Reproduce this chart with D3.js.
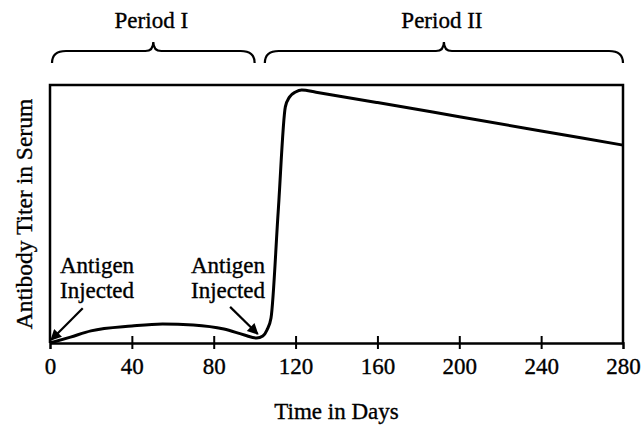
<!DOCTYPE html>
<html>
<head>
<meta charset="utf-8">
<script src="https://cdn.jsdelivr.net/npm/d3@7"></script>
<style>
  body { margin: 0; background: #fff; }
  text { font-family: "Liberation Serif", "Times New Roman", serif; fill: #000; stroke: #000; stroke-width: 0.35px; }
</style>
</head>
<body>
<div id="chart"></div>
<script>
// Values (days, relative titer 0-100)
const days   = [0, 10, 20, 40, 55, 70, 85, 95, 101, 104, 106, 108, 111.5, 115, 117, 120, 123, 130, 160, 200, 240, 280];
const titer  = [0, 2.3, 4.7, 6.6, 7.4, 7.0, 5.4, 3.1, 1.9, 2.7, 5.0, 9.7, 50.8, 91.5, 95.3, 97.3, 98.1, 97.2, 93.2, 87.7, 82.2, 76.7];
const tickValues = [0, 40, 80, 120, 160, 200, 240, 280];
const periods = [
  { label: "Period I",  start: 0,   end: 100 },
  { label: "Period II", start: 104, end: 280 }
];
const injections = [
  { tip: [0.5, 1.2],  tail: [16, 13.5], text: ["Antigen", "Injected"], lx: 23 },
  { tip: [101.5, 3.5], tail: [88, 14], text: ["Antigen", "Injected"], lx: 87 }
];

const width = 641, height = 427;
const margin = { top: 85, right: 18, bottom: 84, left: 50 };

const svg = d3.select("#chart").append("svg")
    .attr("width", width)
    .attr("height", height);

const x = d3.scaleLinear().domain([0, 280]).range([margin.left, width - margin.right]);
const y = d3.scaleLinear().domain([0, 100]).range([height - margin.bottom, margin.top]);

// frame
svg.append("path")
    .attr("d", `M${x(0)},${y(0)} V${y(100)} H${x(280)} V${y(0)}`)
    .attr("fill", "none")
    .attr("stroke", "#000")
    .attr("stroke-width", 2.5);

// x axis with crossing ticks
const xAxis = svg.append("g")
    .attr("transform", `translate(0,${y(0)})`)
    .call(d3.axisBottom(x).tickValues(tickValues).tickSize(6).tickPadding(9));
xAxis.select(".domain").attr("stroke-width", 2.5).attr("stroke", "#000");
xAxis.selectAll(".tick line")
    .attr("y1", -7).attr("y2", 6)
    .attr("stroke-width", 2)
    .attr("stroke", "#000")
    .filter(d => d === 0 || d === 280).remove();
xAxis.selectAll(".tick text")
    .style("font-family", "'Liberation Serif', serif")
    .style("font-size", "23px")
    .attr("fill", "#000");

// axis titles
svg.append("text")
    .attr("x", (x(0) + x(280)) / 2)
    .attr("y", 419)
    .attr("text-anchor", "middle")
    .style("font-size", "23px")
    .text("Time in Days");

svg.append("text")
    .attr("transform", `translate(32,${(y(0) + y(100)) / 2}) rotate(-90)`)
    .attr("text-anchor", "middle")
    .style("font-size", "23.5px")
    .text("Antibody Titer in Serum");

// response curve
const line = d3.line()
    .x((d, i) => x(days[i]))
    .y(d => y(d))
    .curve(d3.curveMonotoneX);

svg.append("path")
    .datum(titer)
    .attr("d", line)
    .attr("fill", "none")
    .attr("stroke", "#000")
    .attr("stroke-width", 3)
    .attr("stroke-linejoin", "round");

// period braces
const braceBottom = 63, braceTop = 51, bracePeak = 42;
periods.forEach(p => {
  const x0 = x(p.start) + 2, x1 = x(p.end), xm = (x0 + x1) / 2;
  svg.append("path")
      .attr("d", `M${x0},${braceBottom} Q${x0},${braceTop} ${x0 + 14},${braceTop}
                  L${xm - 8},${braceTop} Q${xm},${braceTop} ${xm},${bracePeak}
                  Q${xm},${braceTop} ${xm + 8},${braceTop}
                  L${x1 - 14},${braceTop} Q${x1},${braceTop} ${x1},${braceBottom}`)
      .attr("fill", "none")
      .attr("stroke", "#000")
      .attr("stroke-width", 2.2);
  svg.append("text")
      .attr("x", xm - 2)
      .attr("y", 28)
      .attr("text-anchor", "middle")
      .style("font-size", "23px")
      .text(p.label);
});

// injection annotations
svg.append("defs").append("marker")
    .attr("id", "arrow")
    .attr("viewBox", "0 0 10 10")
    .attr("refX", 9).attr("refY", 5)
    .attr("markerWidth", 6).attr("markerHeight", 5)
    .attr("markerUnits", "strokeWidth")
    .attr("orient", "auto")
  .append("path")
    .attr("d", "M0,0 L10,5 L0,10 z")
    .attr("fill", "#000");

injections.forEach(a => {
  svg.append("line")
      .attr("x1", x(a.tail[0])).attr("y1", y(a.tail[1]))
      .attr("x2", x(a.tip[0])).attr("y2", y(a.tip[1]))
      .attr("stroke", "#000")
      .attr("stroke-width", 2.2)
      .attr("marker-end", "url(#arrow)");
  const t = svg.append("text")
      .attr("text-anchor", "middle")
      .style("font-size", "23px");
  t.append("tspan").attr("x", x(a.lx)).attr("y", 273).text(a.text[0]);
  t.append("tspan").attr("x", x(a.lx)).attr("y", 298).text(a.text[1]);
});
</script>
</body>
</html>
